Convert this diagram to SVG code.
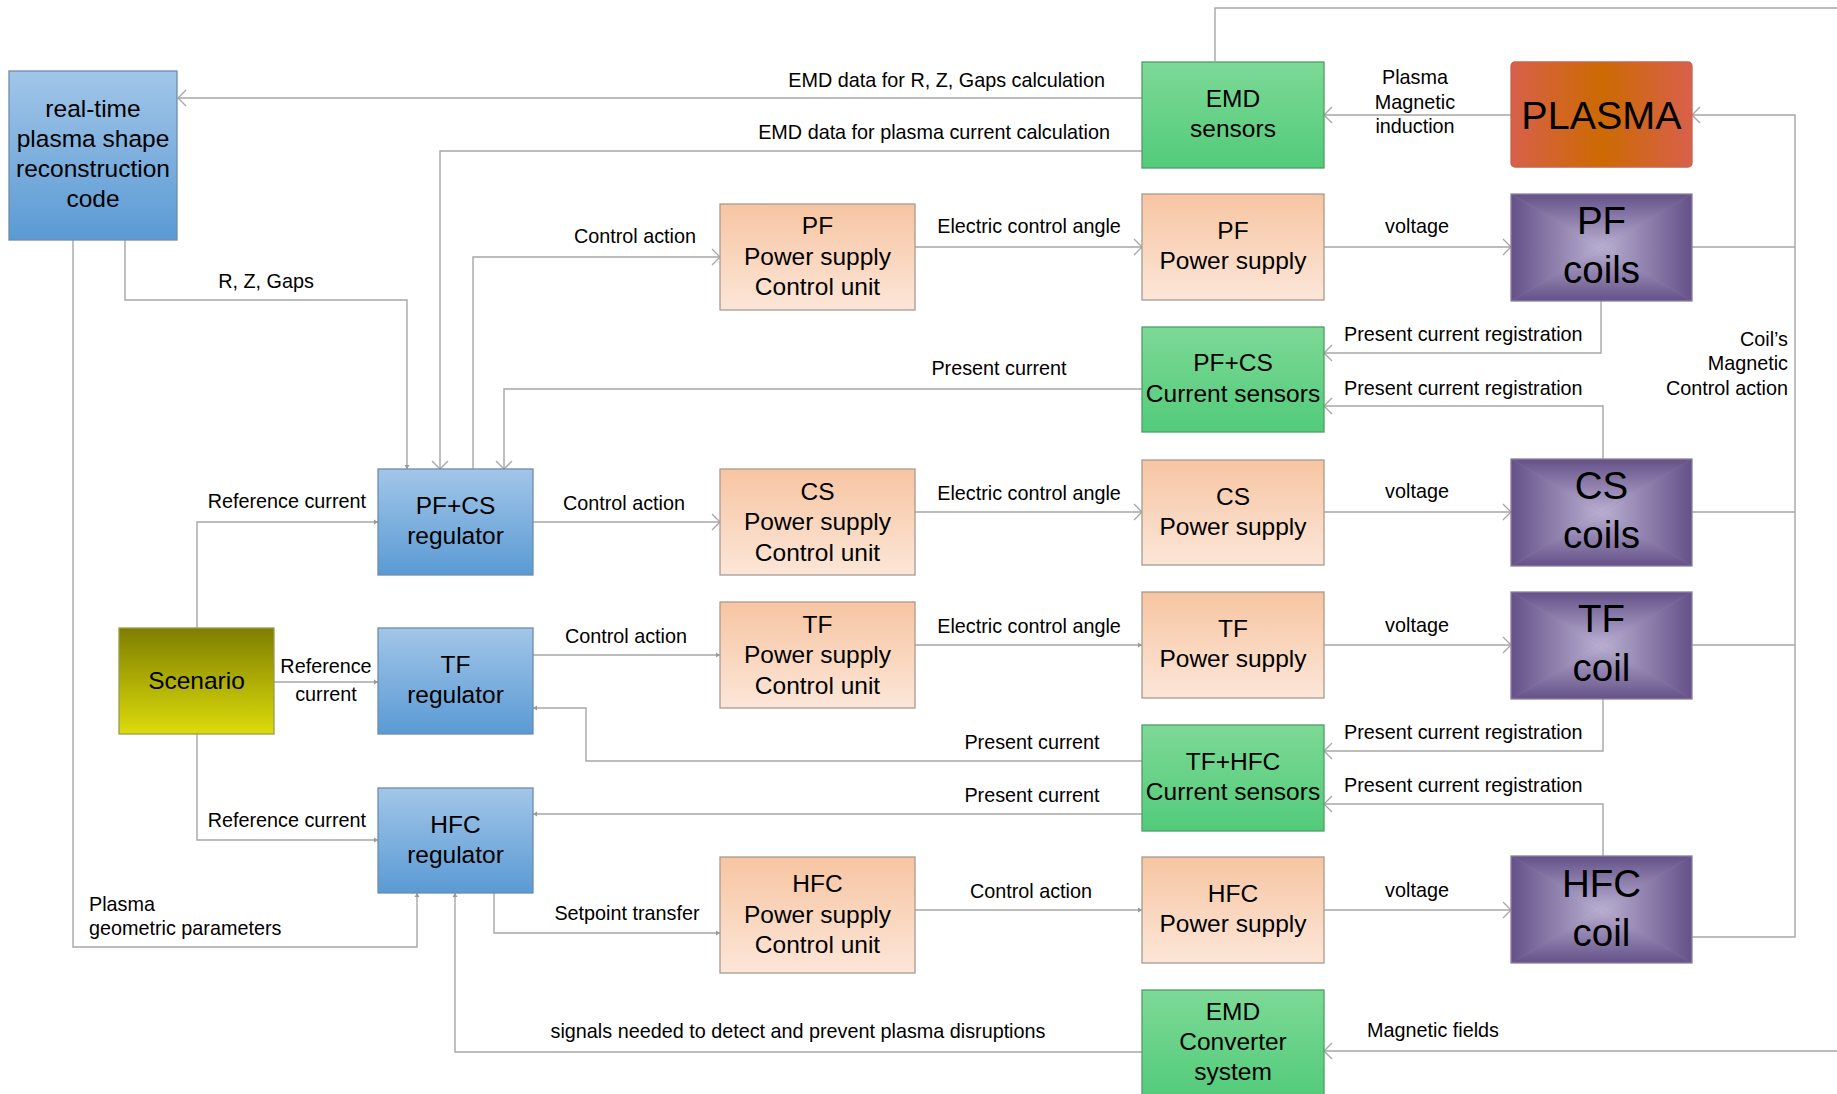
<svg xmlns="http://www.w3.org/2000/svg" xmlns:xlink="http://www.w3.org/1999/xlink" width="1837" height="1094" viewBox="0 0 1837 1094">
<style>
  .n { font-family: "Liberation Sans", Arial, sans-serif; font-size: 24.5px; text-anchor: middle; fill: #000; }
  .cl { font-family: "Liberation Sans", Arial, sans-serif; font-size: 38.5px; text-anchor: middle; fill: #000; }
  .pl { font-family: "Liberation Sans", Arial, sans-serif; font-size: 39.5px; text-anchor: middle; fill: #000; }
  .l { font-family: "Liberation Sans", Arial, sans-serif; font-size: 19.8px; fill: #000; }
  .m { text-anchor: middle; }
  .e { text-anchor: end; }
  .blue { fill: url(#gBlue); stroke: #6e8cab; stroke-width: 1.3; }
  .green { fill: url(#gGreen); stroke: #4f9e68; stroke-width: 1.3; }
  .orange { fill: url(#gOrange); stroke: #a89a90; stroke-width: 1.3; }
  .coilframe { fill: none; stroke: #8a80a2; stroke-width: 1.3; }
  .w { fill: none; stroke: #a6a6a6; stroke-width: 1.4; }
  .big { marker-end: url(#aBig); }
  .sm { marker-end: url(#aSm); }
</style>
<defs>
  <linearGradient id="gBlue" x1="0" y1="0" x2="0" y2="1">
    <stop offset="0" stop-color="#a2c6e8"/>
    <stop offset="1" stop-color="#5a9ad4"/>
  </linearGradient>
  <linearGradient id="gGreen" x1="0" y1="0" x2="0" y2="1">
    <stop offset="0" stop-color="#7dd996"/>
    <stop offset="1" stop-color="#52cb7a"/>
  </linearGradient>
  <linearGradient id="gOrange" x1="0" y1="0" x2="0" y2="1">
    <stop offset="0" stop-color="#f7c5a2"/>
    <stop offset="1" stop-color="#fce6d8"/>
  </linearGradient>
  <linearGradient id="gScen" x1="0" y1="0" x2="0" y2="1">
    <stop offset="0" stop-color="#7e7e00"/>
    <stop offset="1" stop-color="#dcdc0c"/>
  </linearGradient>
  <linearGradient id="gPlasma" x1="0" y1="0" x2="1" y2="0">
    <stop offset="0" stop-color="#d8604b"/>
    <stop offset="0.5" stop-color="#cc6a02"/>
    <stop offset="1" stop-color="#d8604b"/>
  </linearGradient>
  <linearGradient id="cT" x1="0" y1="0" x2="0" y2="1">
    <stop offset="0" stop-color="#645188"/>
    <stop offset="1" stop-color="#bab0d2"/>
  </linearGradient>
  <linearGradient id="cB" x1="0" y1="1" x2="0" y2="0">
    <stop offset="0" stop-color="#645188"/>
    <stop offset="1" stop-color="#bab0d2"/>
  </linearGradient>
  <linearGradient id="cL" x1="0" y1="0" x2="1" y2="0">
    <stop offset="0" stop-color="#645188"/>
    <stop offset="1" stop-color="#bab0d2"/>
  </linearGradient>
  <linearGradient id="cR" x1="1" y1="0" x2="0" y2="0">
    <stop offset="0" stop-color="#645188"/>
    <stop offset="1" stop-color="#bab0d2"/>
  </linearGradient>
  <g id="coilbg">
    <rect x="0" y="0" width="181" height="107" fill="#8f82ad"/>
    <polygon points="0,0 181,0 90.5,53.5" fill="url(#cT)"/>
    <polygon points="0,107 181,107 90.5,53.5" fill="url(#cB)"/>
    <polygon points="0,0 0,107 90.5,53.5" fill="url(#cL)"/>
    <polygon points="181,0 181,107 90.5,53.5" fill="url(#cR)"/>
    <rect x="0" y="0" width="181" height="107" class="coilframe"/>
  </g>
  <marker id="aBig" markerUnits="userSpaceOnUse" markerWidth="14" markerHeight="20" refX="11" refY="10" orient="auto">
    <path d="M3,2 L11,10 L3,18" fill="none" stroke="#a6a6a6" stroke-width="1.3"/>
  </marker>
  <marker id="aSm" markerUnits="userSpaceOnUse" markerWidth="8" markerHeight="8" refX="5" refY="4" orient="auto">
    <path d="M1,1.5 L5,4 L1,6.5 z" fill="#9a9a9a"/>
  </marker>
</defs>

<rect x="0" y="0" width="1837" height="1094" fill="#fff"/>

<g id="connectors">
  <path class="w big" d="M1142,98 H178"/>
  <path class="w big" d="M1142,151 H440 V469"/>
  <path class="w sm" d="M125,240 V300 H407 V469"/>
  <path class="w big" d="M473,469 V257 H720"/>
  <path class="w big" d="M1142,389 H504 V469"/>
  <path class="w big" d="M915,247 H1142"/>
  <path class="w big" d="M1324,247 H1511"/>
  <path class="w big" d="M1601,301 V353 H1324"/>
  <path class="w big" d="M1603,460 V406 H1324"/>
  <path class="w big" d="M1511,115 H1324"/>
  <path class="w big" d="M1692,937 H1795 V115 H1692"/>
  <path class="w" d="M1692,247 H1795"/>
  <path class="w" d="M1692,512 H1795"/>
  <path class="w" d="M1692,645 H1795"/>
  <path class="w" d="M1215,61 V8 H1837"/>
  <path class="w sm" d="M197,628 V522 H378"/>
  <path class="w sm" d="M274,682 H378"/>
  <path class="w sm" d="M197,734 V840 H378"/>
  <path class="w big" d="M533,522 H720"/>
  <path class="w big" d="M915,512 H1142"/>
  <path class="w big" d="M1324,512 H1511"/>
  <path class="w sm" d="M533,655 H720"/>
  <path class="w sm" d="M915,645 H1142"/>
  <path class="w big" d="M1324,645 H1511"/>
  <path class="w big" d="M1603,698 V751 H1324"/>
  <path class="w big" d="M1603,857 V804 H1324"/>
  <path class="w sm" d="M1142,761 H586 V708 H533"/>
  <path class="w sm" d="M1142,814 H533"/>
  <path class="w sm" d="M494,893 V933 H720"/>
  <path class="w sm" d="M915,910 H1142"/>
  <path class="w big" d="M1324,910 H1511"/>
  <path class="w sm" d="M73,240 V947 H417 V893"/>
  <path class="w sm" d="M1142,1052 H455 V893"/>
  <path class="w big" d="M1837,1051 H1324"/>
</g>

<g id="labels">
  <text class="l e" x="1105" y="87">EMD data for R, Z, Gaps calculation</text>
  <text class="l e" x="1110" y="139">EMD data for plasma current calculation</text>
  <text class="l m" x="266" y="288">R, Z, Gaps</text>
  <text class="l e" x="696" y="243">Control action</text>
  <text class="l m" x="1029" y="233">Electric control angle</text>
  <text class="l m" x="1417" y="233">voltage</text>
  <text class="l m" x="1415" y="84">Plasma</text>
  <text class="l m" x="1415" y="109">Magnetic</text>
  <text class="l m" x="1415" y="133">induction</text>
  <text class="l" x="1344" y="341">Present current registration</text>
  <text class="l" x="1344" y="395">Present current registration</text>
  <text class="l e" x="1788" y="346">Coil’s</text>
  <text class="l e" x="1788" y="370">Magnetic</text>
  <text class="l e" x="1788" y="395">Control action</text>
  <text class="l m" x="999" y="375">Present current</text>
  <text class="l e" x="366" y="508">Reference current</text>
  <text class="l m" x="624" y="510">Control action</text>
  <text class="l m" x="1029" y="500">Electric control angle</text>
  <text class="l m" x="1417" y="498">voltage</text>
  <text class="l m" x="326" y="673">Reference</text>
  <text class="l m" x="326" y="701">current</text>
  <text class="l m" x="626" y="643">Control action</text>
  <text class="l m" x="1029" y="633">Electric control angle</text>
  <text class="l m" x="1417" y="632">voltage</text>
  <text class="l m" x="1032" y="749">Present current</text>
  <text class="l" x="1344" y="739">Present current registration</text>
  <text class="l m" x="1032" y="802">Present current</text>
  <text class="l" x="1344" y="792">Present current registration</text>
  <text class="l e" x="366" y="827">Reference current</text>
  <text class="l" x="89" y="911">Plasma</text>
  <text class="l" x="89" y="935">geometric parameters</text>
  <text class="l m" x="627" y="920">Setpoint transfer</text>
  <text class="l m" x="1031" y="898">Control action</text>
  <text class="l m" x="1417" y="897">voltage</text>
  <text class="l m" x="798" y="1038">signals needed to detect and prevent plasma disruptions</text>
  <text class="l m" x="1433" y="1037">Magnetic fields</text>
</g>

<g id="realtime">
  <rect class="blue" x="9" y="71" width="168" height="169"/>
  <text class="n" x="93" y="117">real-time</text>
  <text class="n" x="93" y="147">plasma shape</text>
  <text class="n" x="93" y="177">reconstruction</text>
  <text class="n" x="93" y="207">code</text>
</g>

<g id="emd-sensors">
  <rect class="green" x="1142" y="62" width="182" height="106"/>
  <text class="n" x="1233" y="107">EMD</text>
  <text class="n" x="1233" y="137">sensors</text>
</g>

<g id="plasma">
  <rect x="1511" y="62" width="181" height="105" rx="4" fill="url(#gPlasma)" stroke="#c8644e" stroke-width="1.3"/>
  <text class="pl" x="1601.5" y="129">PLASMA</text>
</g>

<g id="pf-cu">
  <rect class="orange" x="720" y="204" width="195" height="106"/>
  <text class="n" x="817.5" y="234">PF</text>
  <text class="n" x="817.5" y="265">Power supply</text>
  <text class="n" x="817.5" y="295">Control unit</text>
</g>

<g id="pf-ps">
  <rect class="orange" x="1142" y="194" width="182" height="106"/>
  <text class="n" x="1233" y="239">PF</text>
  <text class="n" x="1233" y="269">Power supply</text>
</g>

<g id="pf-coils">
  <use xlink:href="#coilbg" x="1511" y="194"/>
  <text class="cl" x="1601.5" y="234">PF</text>
  <text class="cl" x="1601.5" y="283">coils</text>
</g>

<g id="pfcs-sensors">
  <rect class="green" x="1142" y="327" width="182" height="105"/>
  <text class="n" x="1233" y="371">PF+CS</text>
  <text class="n" x="1233" y="402">Current sensors</text>
</g>

<g id="pfcs-reg">
  <rect class="blue" x="378" y="469" width="155" height="106"/>
  <text class="n" x="455.5" y="514">PF+CS</text>
  <text class="n" x="455.5" y="544">regulator</text>
</g>

<g id="cs-cu">
  <rect class="orange" x="720" y="469" width="195" height="106"/>
  <text class="n" x="817.5" y="499.5">CS</text>
  <text class="n" x="817.5" y="530">Power supply</text>
  <text class="n" x="817.5" y="560.5">Control unit</text>
</g>

<g id="cs-ps">
  <rect class="orange" x="1142" y="460" width="182" height="105"/>
  <text class="n" x="1233" y="504.5">CS</text>
  <text class="n" x="1233" y="535">Power supply</text>
</g>

<g id="cs-coils">
  <use xlink:href="#coilbg" x="1511" y="459"/>
  <text class="cl" x="1601.5" y="499">CS</text>
  <text class="cl" x="1601.5" y="548">coils</text>
</g>

<g id="scenario">
  <rect x="119" y="628" width="155" height="106" fill="url(#gScen)" stroke="#9a9a50" stroke-width="1.3"/>
  <text class="n" x="196.5" y="689">Scenario</text>
</g>

<g id="tf-reg">
  <rect class="blue" x="378" y="628" width="155" height="106"/>
  <text class="n" x="455.5" y="673">TF</text>
  <text class="n" x="455.5" y="703">regulator</text>
</g>

<g id="tf-cu">
  <rect class="orange" x="720" y="602" width="195" height="106"/>
  <text class="n" x="817.5" y="632.5">TF</text>
  <text class="n" x="817.5" y="663">Power supply</text>
  <text class="n" x="817.5" y="693.5">Control unit</text>
</g>

<g id="tf-ps">
  <rect class="orange" x="1142" y="592" width="182" height="106"/>
  <text class="n" x="1233" y="637">TF</text>
  <text class="n" x="1233" y="667">Power supply</text>
</g>

<g id="tf-coil">
  <use xlink:href="#coilbg" x="1511" y="592"/>
  <text class="cl" x="1601.5" y="631.5">TF</text>
  <text class="cl" x="1601.5" y="680.5">coil</text>
</g>

<g id="tfhfc-sensors">
  <rect class="green" x="1142" y="725" width="182" height="106"/>
  <text class="n" x="1233" y="770">TF+HFC</text>
  <text class="n" x="1233" y="800">Current sensors</text>
</g>

<g id="hfc-reg">
  <rect class="blue" x="378" y="788" width="155" height="105"/>
  <text class="n" x="455.5" y="832.5">HFC</text>
  <text class="n" x="455.5" y="862.5">regulator</text>
</g>

<g id="hfc-cu">
  <rect class="orange" x="720" y="857" width="195" height="116"/>
  <text class="n" x="817.5" y="892">HFC</text>
  <text class="n" x="817.5" y="923">Power supply</text>
  <text class="n" x="817.5" y="953">Control unit</text>
</g>

<g id="hfc-ps">
  <rect class="orange" x="1142" y="857" width="182" height="106"/>
  <text class="n" x="1233" y="902">HFC</text>
  <text class="n" x="1233" y="932">Power supply</text>
</g>

<g id="hfc-coil">
  <use xlink:href="#coilbg" x="1511" y="856"/>
  <text class="cl" x="1601.5" y="897">HFC</text>
  <text class="cl" x="1601.5" y="946">coil</text>
</g>

<g id="emd-converter">
  <rect class="green" x="1142" y="990" width="182" height="110"/>
  <text class="n" x="1233" y="1020">EMD</text>
  <text class="n" x="1233" y="1050">Converter</text>
  <text class="n" x="1233" y="1080">system</text>
</g>
</svg>
